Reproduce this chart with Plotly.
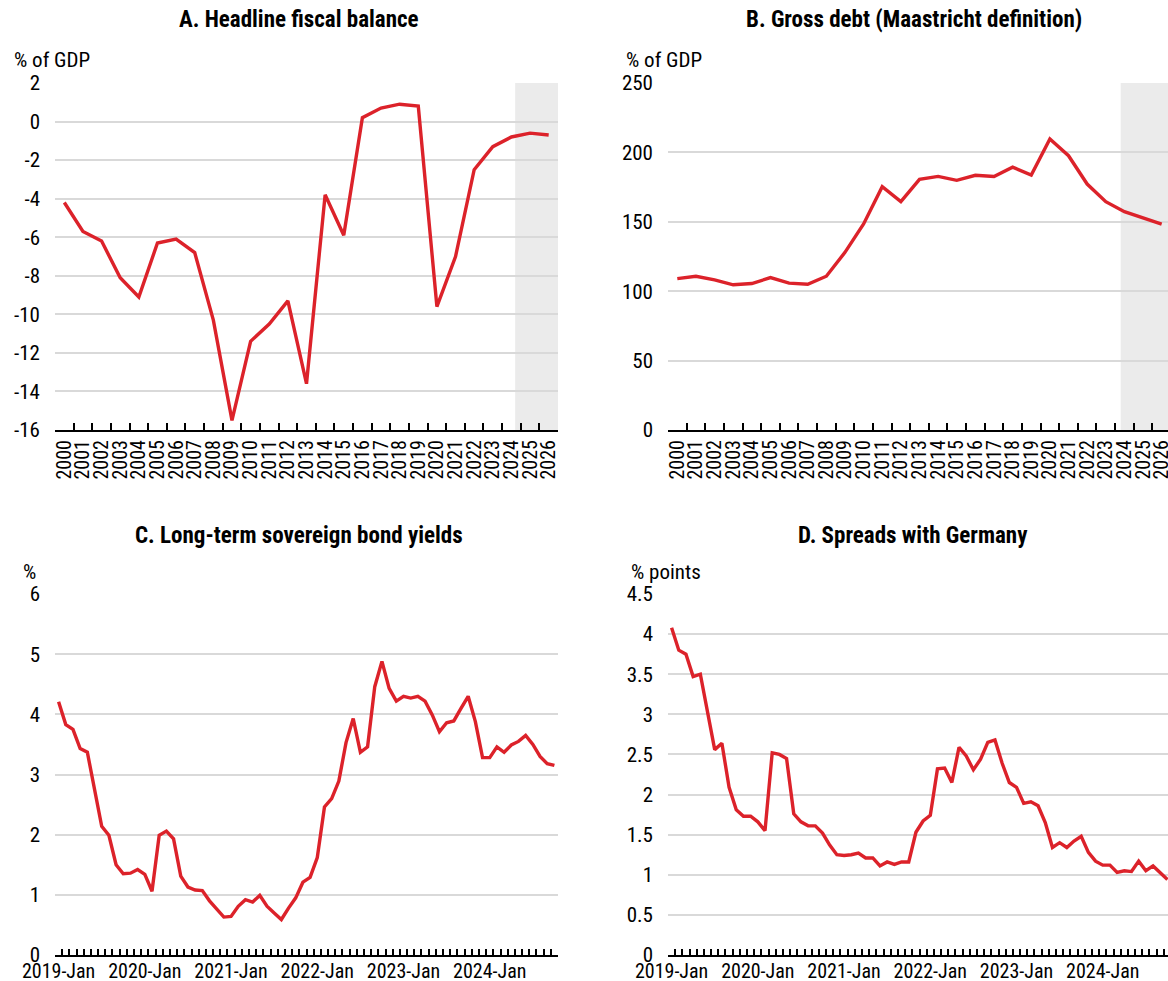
import plotly.graph_objects as go

# ---------------- data ----------------
years = [str(y) for y in range(2000, 2027)]

fiscal_balance = [-4.2, -5.7, -6.2, -8.1, -9.1, -6.3, -6.1, -6.8, -10.3, -15.5,
                  -11.4, -10.5, -9.3, -13.6, -3.8, -5.9, 0.2, 0.7, 0.9, 0.8,
                  -9.6, -7.0, -2.5, -1.3, -0.8, -0.6, -0.7]

gross_debt = [109.1, 110.8, 108.2, 104.6, 105.5, 109.8, 105.8, 105.0, 110.8, 128.0,
              148.4, 175.3, 164.5, 180.6, 182.7, 179.9, 183.5, 182.7, 189.4, 183.7,
              209.6, 197.6, 177.2, 164.5, 157.3, 152.8, 148.4]

month_names = ["Jan", "Feb", "Mar", "Apr", "May", "Jun",
               "Jul", "Aug", "Sep", "Oct", "Nov", "Dec"]
months = [f"{y}-{m}" for y in range(2019, 2025) for m in month_names][:70]

bond_yields = [4.21, 3.83, 3.75, 3.43, 3.37, 2.72, 2.14, 1.99, 1.50, 1.35,
               1.36, 1.42, 1.34, 1.06, 1.99, 2.06, 1.93, 1.31, 1.13, 1.08,
               1.07, 0.90, 0.76, 0.63, 0.64, 0.81, 0.92, 0.88, 0.99, 0.81,
               0.70, 0.59, 0.78, 0.95, 1.21, 1.29, 1.62, 2.46, 2.60, 2.89,
               3.53, 3.93, 3.37, 3.46, 4.46, 4.88, 4.43, 4.22, 4.30, 4.27,
               4.30, 4.22, 3.99, 3.71, 3.86, 3.89, 4.10, 4.30, 3.88, 3.28,
               3.28, 3.46, 3.37, 3.49, 3.55, 3.65, 3.50, 3.30, 3.18, 3.15]

spreads = [4.08, 3.80, 3.75, 3.47, 3.50, 3.02, 2.56, 2.64, 2.09, 1.81,
           1.73, 1.73, 1.66, 1.55, 2.52, 2.50, 2.45, 1.76, 1.66, 1.61,
           1.61, 1.52, 1.37, 1.25, 1.24, 1.25, 1.27, 1.21, 1.21, 1.11,
           1.16, 1.13, 1.16, 1.16, 1.53, 1.67, 1.74, 2.32, 2.33, 2.15,
           2.59, 2.48, 2.31, 2.44, 2.65, 2.68, 2.39, 2.15, 2.09, 1.89,
           1.91, 1.86, 1.65, 1.34, 1.40, 1.34, 1.42, 1.48, 1.28, 1.17,
           1.12, 1.12, 1.03, 1.05, 1.04, 1.17, 1.05, 1.11, 1.03, 0.94]

month_ticktext = [m if m.endswith("-Jan") else "" for m in months]

balance_ticks = list(range(-16, 3, 2))
balance_ticktext = [str(v) for v in balance_ticks]   # plain hyphen minus

# ---------------- styling ----------------
W, H = 1168, 981
RED = "#DC222A"
GRID = "#d9d9d9"
FONT = ("Liberation Sans Narrow, Arial Narrow, Roboto Condensed, "
        "Noto Sans Condensed, Liberation Sans, Arial, sans-serif")
XTICKFONT = dict(family=FONT, size=20, color="#000000")
YTICKFONT = dict(family=FONT, size=21, color="#000000")


def px(x):
    return x / W


def py(y):
    return 1 - y / H


fig = go.Figure()

fig.add_trace(go.Scatter(x=years, y=fiscal_balance, xaxis="x", yaxis="y",
                         mode="lines", line=dict(color=RED, width=3.4)))
fig.add_trace(go.Scatter(x=years, y=gross_debt, xaxis="x2", yaxis="y2",
                         mode="lines", line=dict(color=RED, width=3.4)))
fig.add_trace(go.Scatter(x=months, y=bond_yields, xaxis="x3", yaxis="y3",
                         mode="lines", line=dict(color=RED, width=3.4)))
fig.add_trace(go.Scatter(x=months, y=spreads, xaxis="x4", yaxis="y4",
                         mode="lines", line=dict(color=RED, width=3.4)))


def xaxis_common(**kw):
    d = dict(type="category", tickson="boundaries", ticks="inside", ticklen=7,
             tickwidth=1.5, tickcolor="#000000", showline=True, linecolor="#000000",
             linewidth=2, showgrid=False, zeroline=False, tickfont=XTICKFONT,
             fixedrange=True, automargin=False)
    d.update(kw)
    return d


def yaxis_common(**kw):
    d = dict(showgrid=True, gridcolor=GRID, gridwidth=2, zeroline=False,
             showline=False, ticks="", tickfont=YTICKFONT, ticklabelstandoff=14,
             fixedrange=True, automargin=False)
    d.update(kw)
    return d


LX = [px(55), px(558)]
RX = [px(668), 1.0]
TOPY = [py(430), py(83)]
BOTY = [py(955), py(594)]

fig.update_layout(
    width=W, height=H,
    margin=dict(l=0, r=0, t=0, b=0, autoexpand=False),
    paper_bgcolor="white", plot_bgcolor="white",
    showlegend=False,
    font=dict(family=FONT, size=20, color="#000000"),
    xaxis=xaxis_common(domain=LX, anchor="y", range=[-0.5, 26.5], tickangle=-90,
                       tickmode="array", tickvals=years, ticktext=years),
    yaxis=yaxis_common(domain=TOPY, anchor="x", range=[-16, 2],
                       tickmode="array", tickvals=balance_ticks,
                       ticktext=balance_ticktext),
    xaxis2=xaxis_common(domain=RX, anchor="y2", range=[-0.5, 26.34], tickangle=-90,
                        tickmode="array", tickvals=years, ticktext=years),
    yaxis2=yaxis_common(domain=TOPY, anchor="x2", range=[0, 250], dtick=50),
    xaxis3=xaxis_common(domain=LX, anchor="y3", range=[-0.5, 69.5], tickangle=0,
                        tickmode="array", tickvals=months, ticktext=month_ticktext,
                        ticklen=6, ticklabelstandoff=-3),
    yaxis3=yaxis_common(domain=BOTY, anchor="x3", range=[0, 6], dtick=1),
    xaxis4=xaxis_common(domain=RX, anchor="y4", range=[-0.5, 69.08], tickangle=0,
                        tickmode="array", tickvals=months, ticktext=month_ticktext,
                        ticklen=6, ticklabelstandoff=-3),
    yaxis4=yaxis_common(domain=BOTY, anchor="x4", range=[0, 4.5], dtick=0.5),
)

# projection shading
for xr, yr, start in (("x", "y", 24.2), ("x2", "y2", 23.8)):
    fig.add_shape(type="rect", xref=xr, yref=f"{yr} domain", x0=start, x1=26.5,
                  y0=0, y1=1, fillcolor="#ebebeb", line=dict(width=0), layer="below")

TITLEFONT = dict(family=FONT, size=23, color="#000000", weight="bold")
titles = [("A. Headline fiscal balance", 299, 20),
          ("B. Gross debt (Maastricht definition)", 914, 20),
          ("C. Long-term sovereign bond yields", 299, 535),
          ("D. Spreads with Germany", 913, 535)]
for text, x, y in titles:
    fig.add_annotation(text=text, x=px(x), y=py(y), xref="paper", yref="paper",
                       xanchor="center", yanchor="middle", showarrow=False,
                       font=TITLEFONT)

units = [("% of GDP", 12, 60), ("% of GDP", 624, 60),
         ("%", 21, 572), ("% points", 629, 572)]
for text, x, y in units:
    fig.add_annotation(text=text, x=px(x), y=py(y), xref="paper", yref="paper",
                       xanchor="left", yanchor="middle", showarrow=False,
                       font=dict(family=FONT, size=21, color="#000000"))

fig.write_html("out.html", config={"displayModeBar": False},
               post_script="document.body.style.margin='0';")
